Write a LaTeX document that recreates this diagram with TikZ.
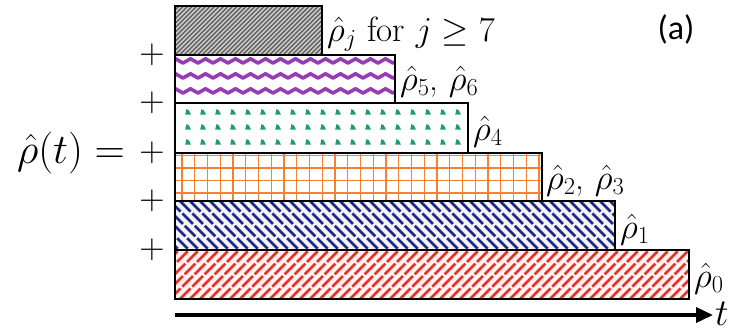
\RequirePackage{fix-cm}
\documentclass[tikz,border=0pt]{standalone}
\usepackage{amsmath}
\usepackage{fontspec}
\newfontfamily\carlito{Carlito}
\usetikzlibrary{arrows.meta}
\definecolor{cgraybg}{RGB}{200,200,200}
\definecolor{cgrayln}{RGB}{90,90,90}
\definecolor{cpurple}{RGB}{150,60,180}
\definecolor{cgreen}{RGB}{30,160,100}
\definecolor{corange}{RGB}{245,130,50}
\definecolor{cnavy}{RGB}{30,40,140}
\definecolor{cred}{RGB}{230,50,40}
\tikzset{
  boxedge/.style={draw=black, line width=1.1pt},
  lbl/.style={anchor=base west, inner sep=0pt, font=\fontsize{35}{40}\selectfont},
  plussign/.style={inner sep=0pt, font=\fontsize{35}{40}\selectfont},
}
\begin{document}
\begin{tikzpicture}[x=1pt,y=-1pt]
\useasboundingbox (0,0) rectangle (736,330);
% --- box j>=7 (gray hatch)
\begin{scope}
  \clip (175,6) rectangle (322,55);
  \fill[cgraybg] (175,6) rectangle (322,55);
  \foreach \k in {-50,-45.5,...,330} \draw[cgrayln, line width=1.1pt] (\k,55) -- ++(49,-49);
\end{scope}
\draw[boxedge] (175,6) rectangle (322,55);
% --- box 5,6 (purple zigzag)
\begin{scope}
  \clip (175,55) rectangle (395,103);
  \fill[white] (175,55) rectangle (395,103);
  \foreach \yy in {63,78,93}
    \draw[cpurple, line width=3.6pt, line join=round] (168,\yy) \foreach \i in {0,...,16} { -- ++(7.5,-4.2) -- ++(7.5,4.2) };
\end{scope}
\draw[boxedge] (175,55) rectangle (395,103);
% --- box 4 (green dots)
\begin{scope}
  \clip (175,103) rectangle (468,153);
  \foreach \yy in {112,127,142}
    \foreach \xx in {188,203,...,465}
      \fill[cgreen] (\xx-2.8,\yy+2.6) -- (\xx+3,\yy+2.6) -- (\xx+1,\yy-1.5) -- (\xx-1.5,\yy-3) -- cycle;
\end{scope}
\draw[boxedge] (175,103) rectangle (468,153);
% --- box 2,3 (orange grid)
\begin{scope}
  \clip (175,153) rectangle (542,201);
  \foreach \xx in {182,194.75,...,545} \draw[corange, line width=1.4pt] (\xx,153) -- (\xx,201);
  \foreach \yy in {155.5,168,180.5,193} \draw[corange, line width=1.4pt] (175,\yy) -- (542,\yy);
\end{scope}
\draw[boxedge] (175,153) rectangle (542,201);
% --- box 1 (blue hatch)
\begin{scope}
  \clip (175,201) rectangle (615,250);
  \fill[cnavy!5] (175,201) rectangle (615,250);
  \foreach \k in {120,130,...,620} \draw[cnavy, line width=2.6pt, dash pattern=on 15pt off 2.5pt] (\k,201) -- ++(49,49);
\end{scope}
\draw[boxedge] (175,201) rectangle (615,250);
% --- box 0 (red hatch)
\begin{scope}
  \clip (175,250) rectangle (689,299);
  \fill[cred!5] (175,250) rectangle (689,299);
  \foreach \k in {120,130,...,690} \draw[cred, line width=2.6pt, dash pattern=on 15pt off 2.5pt] (\k,299) -- ++(49,-49);
\end{scope}
\draw[boxedge] (175,250) rectangle (689,299);
% --- labels
\node[lbl] (l7) at (327,41) {$\hat\rho_j$ for $j\geq 7$};
\node[lbl] (l5) at (400,90) {$\hat\rho_5$, $\hat\rho_6$};
\node[lbl] (l4) at (473,140) {$\hat\rho_4$};
\node[lbl] (l2) at (546,189) {$\hat\rho_2$, $\hat\rho_3$};
\node[lbl] (l1) at (620,238) {$\hat\rho_1$};
\node[lbl] (l0) at (694,287) {$\hat\rho_0$};
% --- plus signs and lhs
\foreach \yy/\nm in {55/p5,103/p4,153/p2,201/p1,250/p0}
  \node[plussign] (\nm) at (152,\yy) {$+$};
\node[inner sep=0pt, anchor=east, font=\fontsize{42}{48}\selectfont] (lhs) at (125,153) {$\hat\rho(t) =$};
% --- time axis
\coordinate (ta) at (175,315);
\coordinate (tb) at (713,315);
\draw[line width=3.5pt, -{Triangle[length=17pt,width=15pt]}] (ta) -- (tb);
\node[lbl, font=\fontsize{38}{42}\selectfont] (tl) at (715,325) {$t$};
% --- panel tag
\node[inner sep=0pt, font=\carlito\fontsize{34}{38}\selectfont] (tag) at (676,29) {(a)};
\end{tikzpicture}
\end{document}
